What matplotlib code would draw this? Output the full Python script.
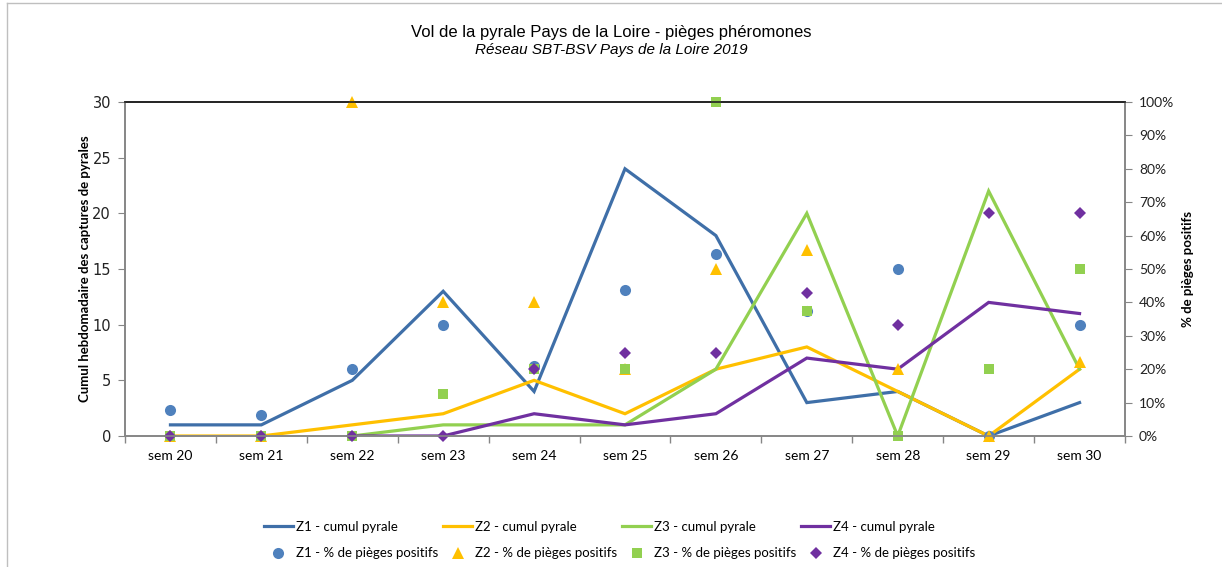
import numpy as np
import matplotlib
matplotlib.use("Agg")
import matplotlib.pyplot as plt
from matplotlib.lines import Line2D
from matplotlib.ticker import FuncFormatter

weeks = ['sem 20', 'sem 21', 'sem 22', 'sem 23', 'sem 24', 'sem 25',
         'sem 26', 'sem 27', 'sem 28', 'sem 29', 'sem 30']
nan = np.nan
z1_cumul = [1, 1, 5, 13, 4, 24, 18, 3, 4, 0, 3]
z2_cumul = [0, 0, 1, 2, 5, 2, 6, 8, 4, 0, 6]
z3_cumul = [nan, nan, 0, 1, 1, 1, 6, 20, 0, 22, 6]
z4_cumul = [nan, nan, 0, 0, 2, 1, 2, 7, 6, 12, 11]

z1_pct = [7.7, 6.3, 20, 33.3, 21, 43.8, 54.5, 37.5, 50, 0, 33.3]
z2_pct = [0, 0, 100, 40, 40, 20, 50, 55.6, 20, 0, 22.2]
z3_pct = [0, 0, 0, 12.5, 20, 20, 100, 37.5, 0, 20, 50]
z4_pct = [0, 0, 0, 0, 20, 25, 25, 42.9, 33.3, 66.7, 66.7]

line_labels = ['Z1 - cumul pyrale', 'Z2 - cumul pyrale', 'Z3 - cumul pyrale', 'Z4 - cumul pyrale']
pct_labels = ['Z1 - % de pièges positifs', 'Z2 - % de pièges positifs',
              'Z3 - % de pièges positifs', 'Z4 - % de pièges positifs']

line_colors = ['#3F6FA8', '#FFC000', '#92D050', '#7030A0']
marker_colors = ['#4F81BD', '#FFC000', '#92D050', '#7030A0']
markers = ['o', '^', 's', 'D']
msizes = [8, 8, 7, 6]

CAL = ['Lato', 'DejaVu Sans']
NARROW = ['Liberation Sans Narrow', 'Liberation Sans', 'DejaVu Sans']

fig = plt.figure(figsize=(12.22, 5.67), dpi=100)
ax = fig.add_axes([125/1222, 1-436/567, 1000/1222, 334/567])
ax2 = ax.twinx()

x = np.arange(len(weeks))
cumuls = [z1_cumul, z2_cumul, z3_cumul, z4_cumul]
pcts = [z1_pct, z2_pct, z3_pct, z4_pct]

handles_l = []
for c, lab, col in zip(cumuls, line_labels, line_colors):
    h, = ax.plot(x, c, color=col, lw=2.3, label=lab, solid_joinstyle='miter')
    handles_l.append(h)

handles_m = []
for p, lab, col, m, ms in zip(pcts, pct_labels, marker_colors, markers, msizes):
    h, = ax2.plot(x, p, linestyle='none', marker=m, ms=ms, color=col,
                  markeredgewidth=0, label=lab, clip_on=False)
    handles_m.append(h)

ax.set_xlim(-0.5, len(weeks) - 0.5)
ax.set_ylim(0, 30)
ax.set_yticks(range(0, 31, 5))
ax2.set_ylim(0, 100)
ax2.set_yticks(range(0, 101, 10))
ax2.yaxis.set_major_formatter(FuncFormatter(lambda v, p: f'{int(v)}%'))

ax.set_xticks(x)
ax.set_xticklabels(weeks, fontsize=10, family=CAL)
ax.set_xticks(np.arange(-0.5, len(weeks), 1), minor=True)
ax.tick_params(axis='x', which='major', length=0, pad=10, colors='#000000')
ax.tick_params(axis='x', which='minor', length=5, color='#868686', width=1)
ax.tick_params(axis='y', length=5, color='#868686', labelsize=10.5, pad=5, labelcolor='#222222')
for t in ax.get_yticklabels():
    t.set_family(['DejaVu Sans'])
ax2.tick_params(axis='y', length=5, color='#868686', labelsize=10, pad=5, labelcolor='#222222')
for t in ax2.get_yticklabels():
    t.set_family(CAL)

for a in (ax, ax2):
    for s in ('left', 'right', 'bottom'):
        a.spines[s].set_color('#868686')
        a.spines[s].set_linewidth(1.2)
    a.spines['top'].set_color('#222222')
    a.spines['top'].set_linewidth(1.2)

ax.set_ylabel('Cumul hebdomadaire des captures de pyrales', fontsize=9.5,
              fontweight='bold', family=CAL, labelpad=1)
ax2.set_ylabel('% de pièges positifs', fontsize=9.5, fontweight='bold',
               family=CAL, rotation=90, labelpad=6)

fig.text(0.5, 1-32/567, 'Vol de la pyrale Pays de la Loire - pièges phéromones',
         ha='center', va='center', fontsize=12, family=NARROW)
fig.text(0.5, 1-50/567, 'Réseau SBT-BSV Pays de la Loire 2019',
         ha='center', va='center', fontsize=11, family=NARROW, style='italic')

order = []
for hl, hm in zip(handles_l, handles_m):
    order += [hl, hm]
leg = fig.legend(handles=order, labels=[h.get_label() for h in order],
                 ncol=4, loc='center', bbox_to_anchor=(0.507, 1-540/567),
                 frameon=False, prop={'family': CAL, 'size': 9.5},
                 handlelength=2.2, handletextpad=0.2, columnspacing=0.4,
                 labelspacing=1.1)

# figure border (top and left visible)
fig.add_artist(Line2D([7/1222, 7/1222], [0, 1-3/567], transform=fig.transFigure,
                      color='#BFBFBF', lw=1))
fig.add_artist(Line2D([7/1222, 1], [1-3/567, 1-3/567], transform=fig.transFigure,
                      color='#BFBFBF', lw=1))

fig.savefig('out.png', dpi=100)
